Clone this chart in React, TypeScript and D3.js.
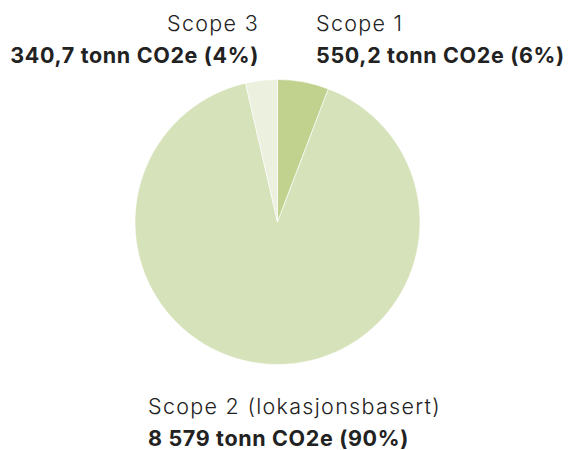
import React from "react";
import * as d3 from "d3";

const categories = ["Scope 1", "Scope 2 (lokasjonsbasert)", "Scope 3"];
const values = [550.2, 8579, 340.7];
const valueLabels = ["550,2 tonn CO2e (6%)", "8 579 tonn CO2e (90%)", "340,7 tonn CO2e (4%)"];
const colors = ["#c1d28f", "#d6e2b9", "#ebf0df"];

const W = 568;
const H = 450;
const cx = 277.5;
const cy = 222;
const R = 142.5;

export default function App() {
  const pie = d3.pie<number>().sort(null).value((d) => d);
  const arcs = pie(values);
  const arc = d3.arc<d3.PieArcDatum<number>>().innerRadius(0).outerRadius(R);
  const font = "Inter, 'Noto Sans', sans-serif";
  const textColor = "#222222";
  const fs = 21.5;
  const lightProps = { fontFamily: font, fontSize: fs, fontWeight: 300, fill: textColor, letterSpacing: 1.3 };
  const boldProps = { fontFamily: font, fontSize: fs, fontWeight: 700, fill: textColor, letterSpacing: 0.65 };
  return (
    <svg width={W} height={H} style={{ position: "absolute", left: 0, top: 0 }}>
      <g transform={`translate(${cx},${cy})`}>
        {arcs.map((a, i) => (
          <path key={i} d={arc(a) || ""} fill={colors[i]} stroke="#ffffff" strokeWidth={0.6} />
        ))}
      </g>
      <text x={259} y={31} textAnchor="end" {...lightProps}>
        {categories[2]}
      </text>
      <text x={259} y={63} textAnchor="end" {...boldProps}>
        {valueLabels[2]}
      </text>
      <text x={316} y={31} textAnchor="start" {...lightProps}>
        {categories[0]}
      </text>
      <text x={316} y={63} textAnchor="start" {...boldProps}>
        {valueLabels[0]}
      </text>
      <text x={148} y={414} textAnchor="start" {...lightProps}>
        {categories[1]}
      </text>
      <text x={148} y={446} textAnchor="start" {...boldProps}>
        {valueLabels[1]}
      </text>
    </svg>
  );
}
